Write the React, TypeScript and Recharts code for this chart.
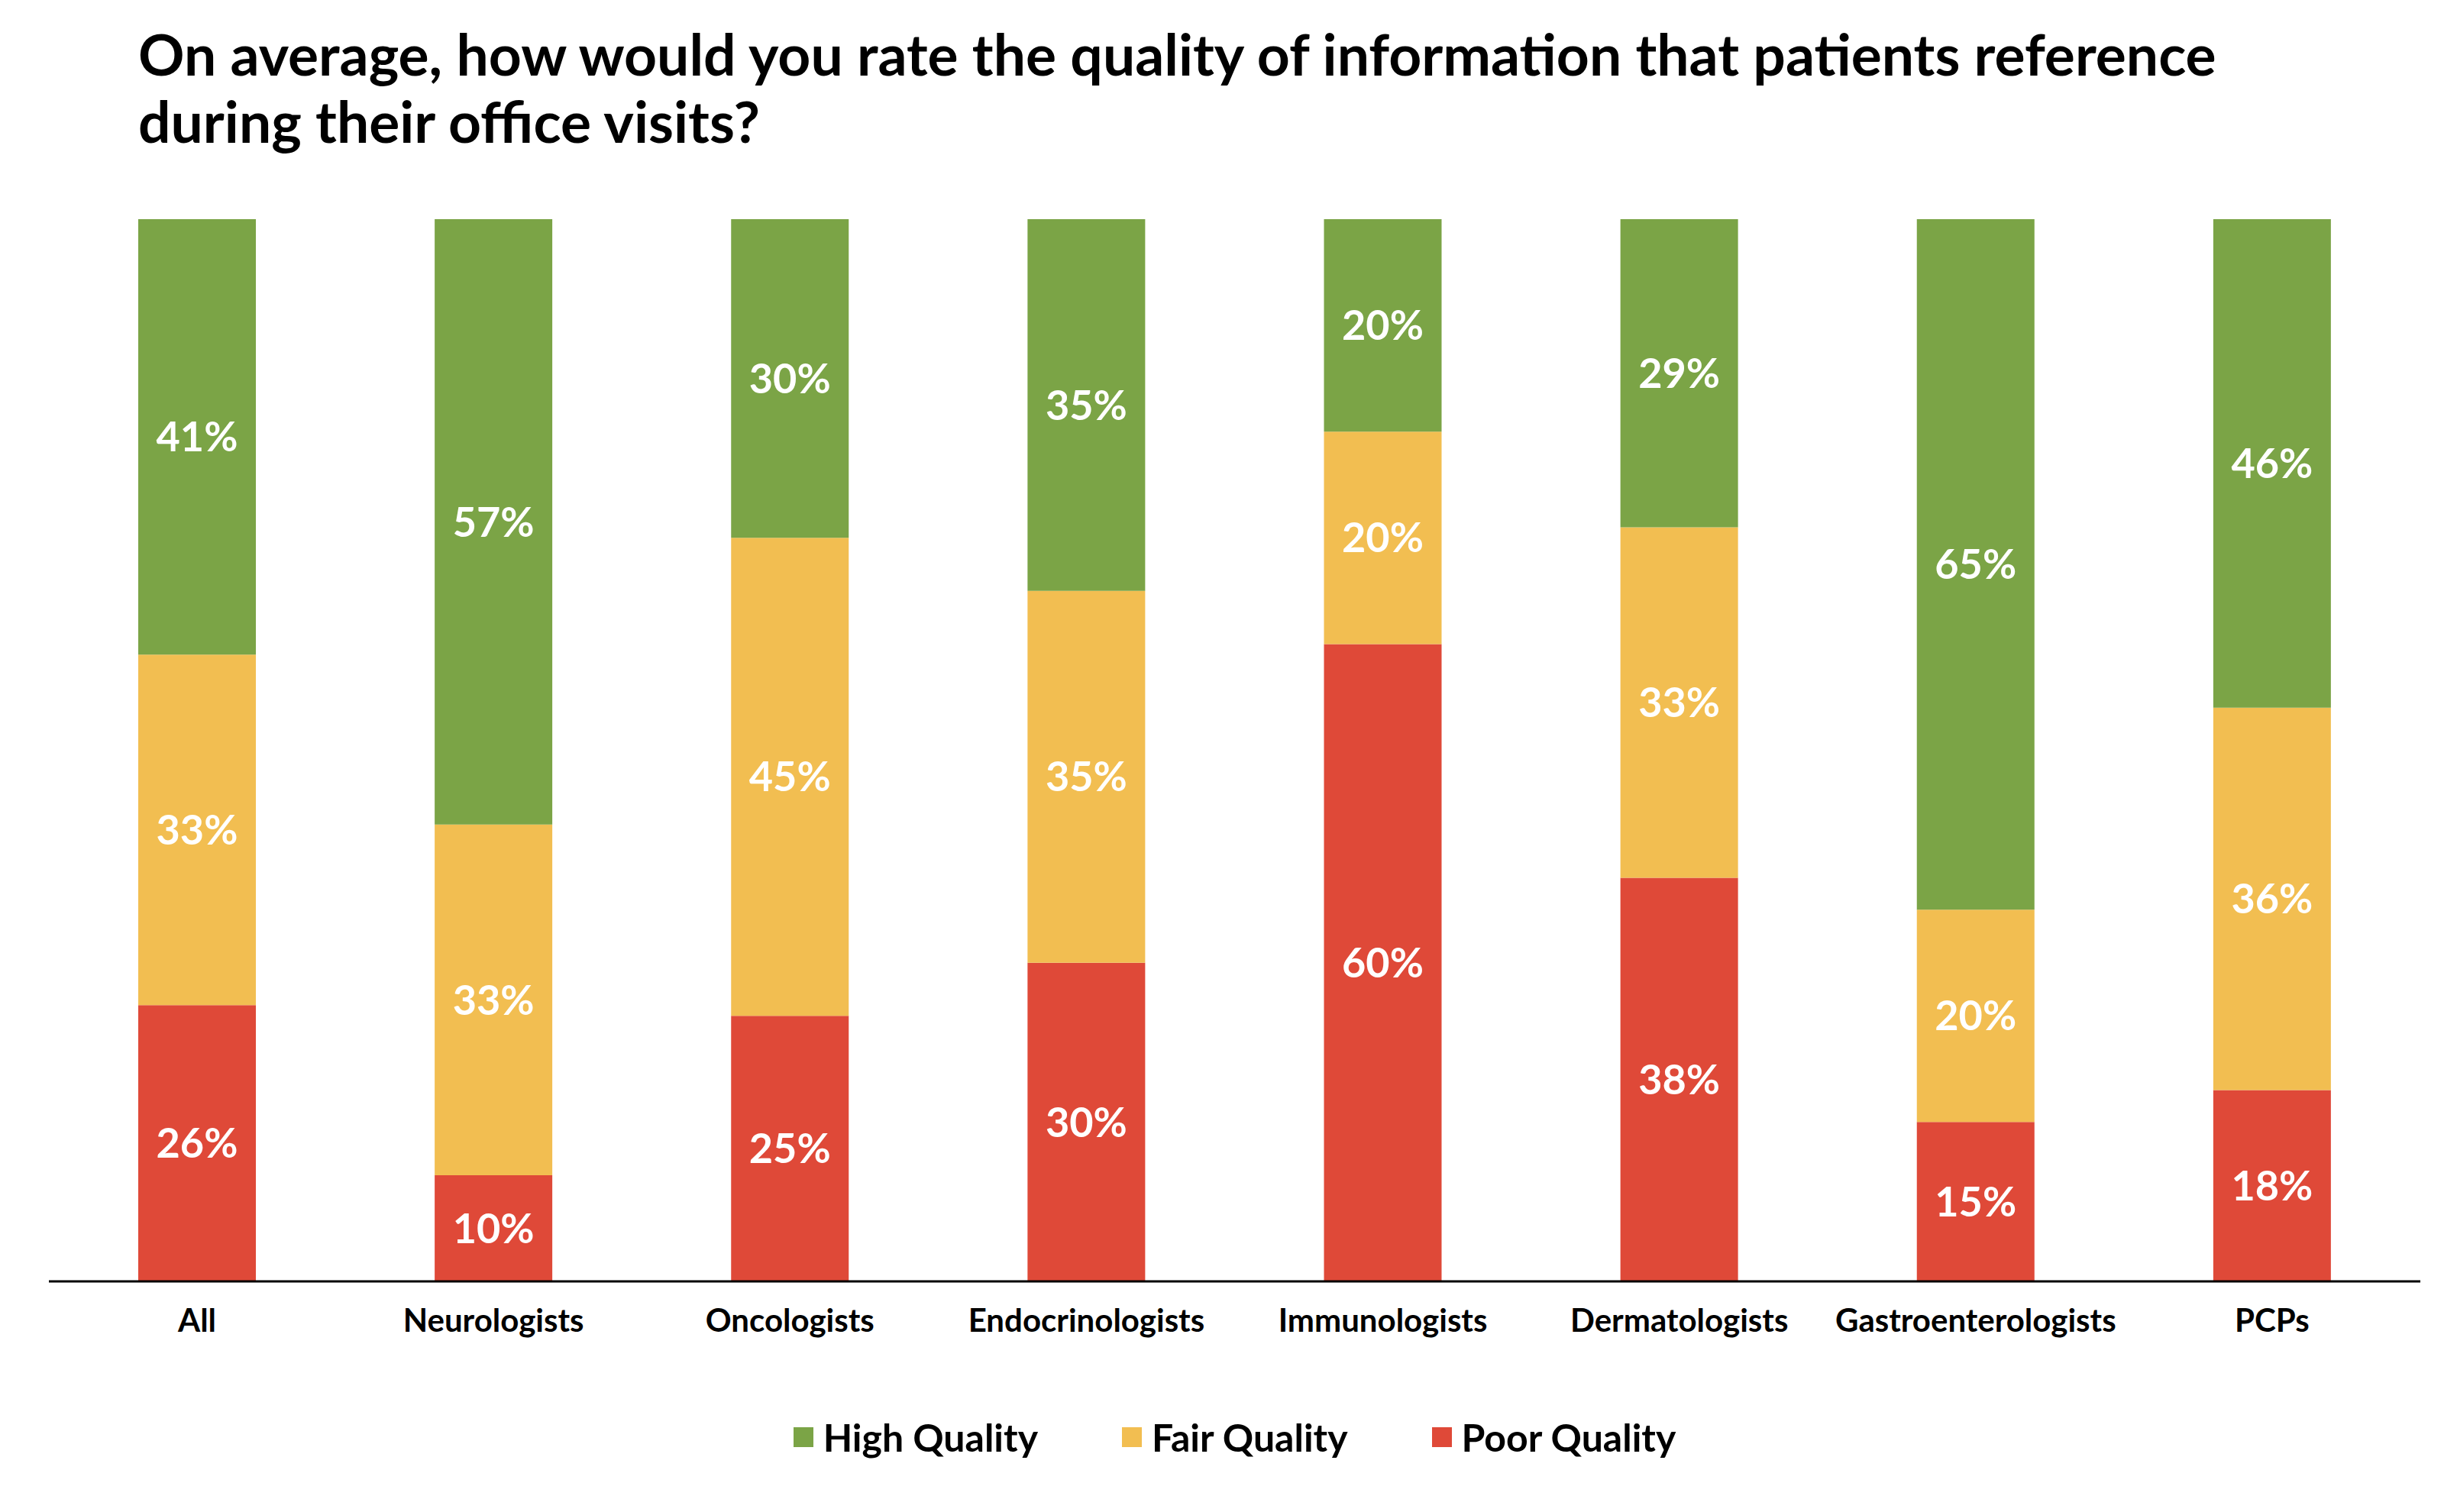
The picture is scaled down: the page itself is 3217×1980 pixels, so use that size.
import { BarChart, Bar, XAxis, YAxis, Legend, LabelList } from 'recharts';

const categories = ['All', 'Neurologists', 'Oncologists', 'Endocrinologists', 'Immunologists', 'Dermatologists', 'Gastroenterologists', 'PCPs'];
const highQuality = [41, 57, 30, 35, 20, 29, 65, 46];
const fairQuality = [33, 33, 45, 35, 20, 33, 20, 36];
const poorQuality = [26, 10, 25, 30, 60, 38, 15, 18];

const series = [
  { key: 'high', name: 'High Quality', color: '#7BA446' },
  { key: 'fair', name: 'Fair Quality', color: '#F2BE51' },
  { key: 'poor', name: 'Poor Quality', color: '#DF4938' },
];

const data = categories.map((name, i) => ({
  name,
  high: highQuality[i],
  fair: fairQuality[i],
  poor: poorQuality[i],
}));

const FONT = 'Lato, "Open Sans", sans-serif';

function CategoryTick({ x, y, payload }: any) {
  return (
    <text x={x} y={y} dy={66} textAnchor="middle" fontFamily={FONT} fontWeight={700} fontSize={42} fill="#000">
      {payload.value}
    </text>
  );
}

function LegendContent() {
  return (
    <div style={{ display: 'flex', justifyContent: 'center', alignItems: 'center', height: 60, fontFamily: FONT }}>
      {series.map((s, i) => (
        <div key={s.key} style={{ display: 'flex', alignItems: 'center', marginLeft: i === 0 ? 0 : 110 }}>
          <span style={{ width: 26, height: 26, background: s.color, display: 'inline-block', marginRight: 13 }} />
          <span style={{ fontSize: 50, fontWeight: 700, color: '#000' }}>{s.name}</span>
        </div>
      ))}
    </div>
  );
}

export default function App() {
  return (
    <div style={{ position: 'absolute', left: 0, top: 0, width: 3217, height: 1980, background: '#fff' }}>
      <div
        style={{
          position: 'absolute',
          left: 181,
          top: 26,
          width: 2950,
          fontFamily: FONT,
          fontWeight: 700,
          fontSize: 75,
          lineHeight: '88px',
          color: '#000',
        }}
      >
        On average, how would you rate the quality of information that patients reference
        <br />
        during their office visits?
      </div>
      <div style={{ position: 'absolute', left: 0, top: 0 }}>
        <BarChart width={3217} height={1980} data={data} margin={{ top: 287, right: 48, bottom: 68, left: 64 }}>
          <XAxis
            dataKey="name"
            height={174}
            tickLine={false}
            tickSize={0}
            tickMargin={0}
            axisLine={{ stroke: '#000', strokeWidth: 3 }}
            tick={<CategoryTick />}
            interval={0}
          />
          <YAxis hide domain={[0, 100]} />
          <Legend verticalAlign="bottom" wrapperStyle={{ height: 60 }} content={<LegendContent />} />
          {[...series].reverse().map((s) => (
            <Bar key={s.key} dataKey={s.key} name={s.name} stackId="a" fill={s.color} barSize={154} isAnimationActive={false}>
              <LabelList
                dataKey={s.key}
                position="center"
                formatter={(v: any) => `${v}%`}
                fill="#fff"
                fontFamily={FONT}
                fontWeight={700}
                fontSize={54}
              />
            </Bar>
          ))}
        </BarChart>
      </div>
    </div>
  );
}
